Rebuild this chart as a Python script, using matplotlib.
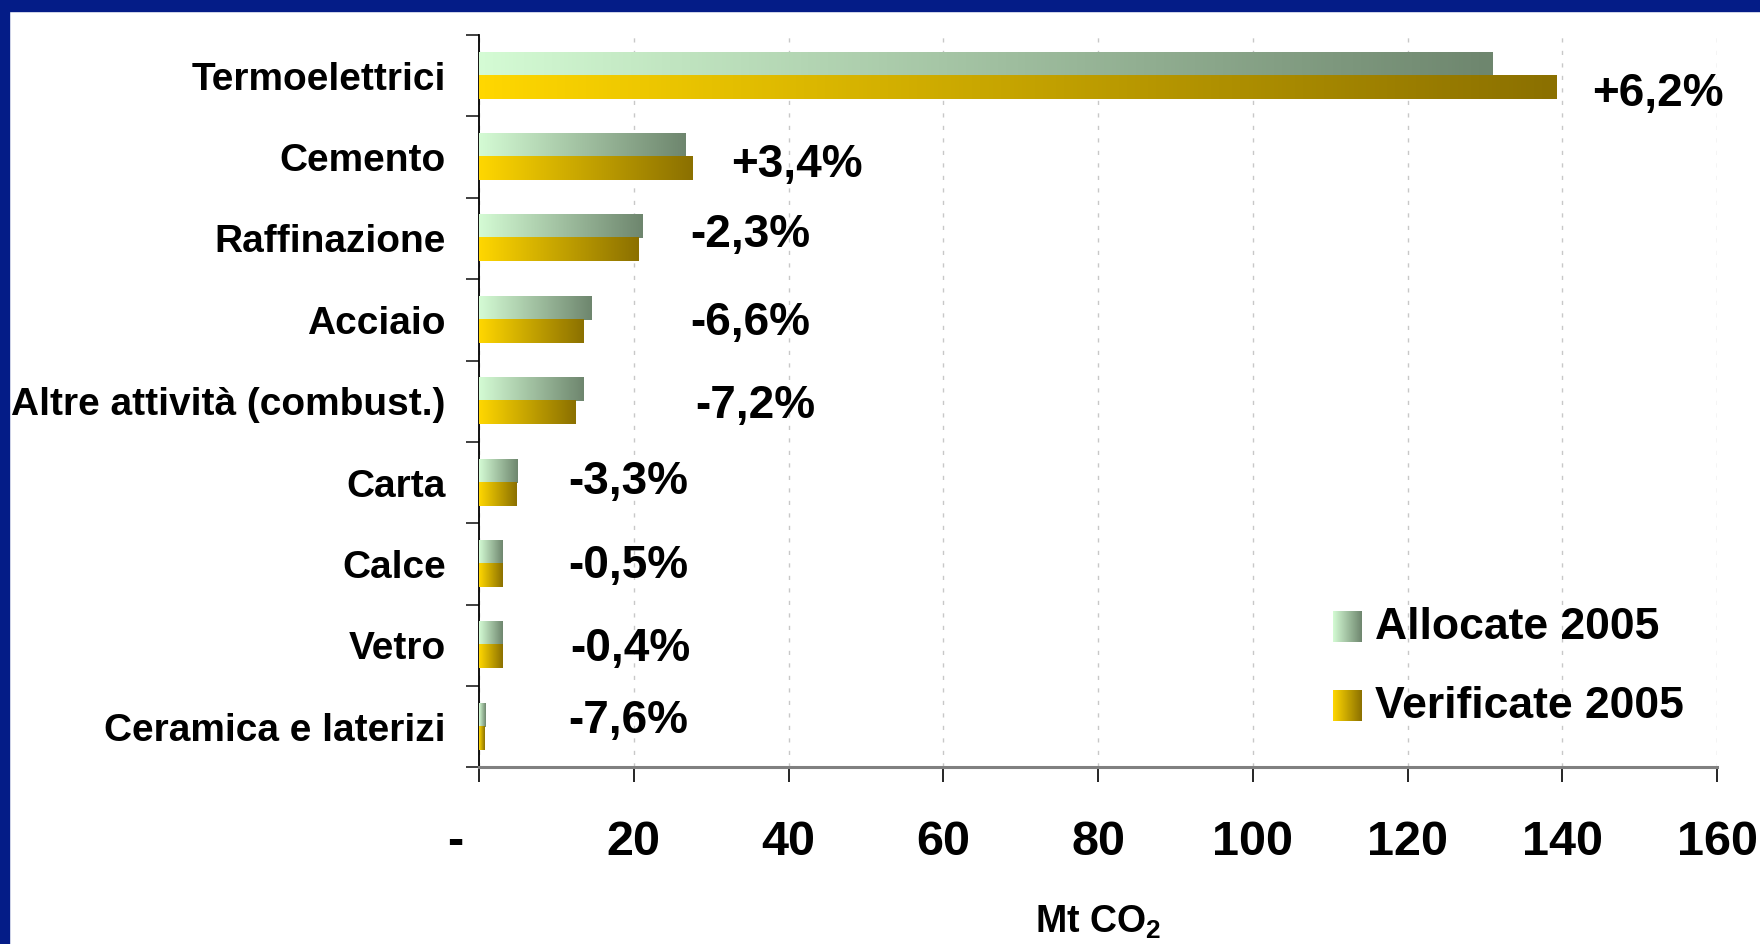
import numpy as np
import matplotlib
matplotlib.use('Agg')
from matplotlib import pyplot as plt
from matplotlib.colors import LinearSegmentedColormap
from matplotlib.patches import Rectangle
from matplotlib.transforms import ScaledTranslation

# data (Mt CO2)
sectors = ['Termoelettrici', 'Cemento', 'Raffinazione', 'Acciaio',
           'Altre attività (combust.)', 'Carta', 'Calce', 'Vetro',
           'Ceramica e laterizi']
allocate_2005 = [131.0, 26.7, 21.1, 14.5, 13.5, 5.0, 3.0, 3.0, 0.8]
verificate_2005 = [139.2, 27.6, 20.6, 13.5, 12.5, 4.85, 2.98, 2.99, 0.75]
variations = ['+6,2%', '+3,4%', '-2,3%', '-6,6%', '-7,2%',
              '-3,3%', '-0,5%', '-0,4%', '-7,6%']
x_ticks = [0, 20, 40, 60, 80, 100, 120, 140, 160]
x_ticklabels = ['-', '20', '40', '60', '80', '100', '120', '140', '160']
series_names = ['Allocate 2005', 'Verificate 2005']

# where the hand-placed variation labels sit (data x, offset from row centre)
label_x = [143.8, 32.6, 27.3, 27.3, 27.9, 11.5, 11.5, 11.8, 11.5]
label_dy = [0.22, 0.10, -0.04, 0.04, 0.06, -0.01, 0.03, 0.04, -0.07]

plt.rcParams['mathtext.default'] = 'regular'
NARROW = ['Liberation Sans Narrow', 'Liberation Sans']
WIDE = ['Liberation Sans', 'DejaVu Sans']

cmap_alloc = LinearSegmentedColormap.from_list('alloc', ['#D4FBD4', '#6E866E'])
cmap_verif = LinearSegmentedColormap.from_list('verif', ['#FFD700', '#8B7000'])
grad = np.linspace(0, 1, 256).reshape(1, -1)


def fill_gradient(ax, patch, cmap, transform=None):
    '''Paint a left-to-right gradient inside a rectangle'''
    x, y = patch.get_x(), patch.get_y()
    w, h = patch.get_width(), patch.get_height()
    kw = {} if transform is None else {'transform': transform}
    ax.imshow(grad, cmap=cmap, extent=[x, x + w, y, y + h], aspect='auto',
              interpolation='bilinear', zorder=3, **kw)
    patch.set_visible(False)


fig = plt.figure(figsize=(17.6, 9.44), dpi=100)
ax = fig.add_axes([0.2722, 0.187, 0.9756 - 0.2722, 0.963 - 0.187])

# blue frame of the slide
fig.patches.append(Rectangle((0, 1 - 11 / 944), 1, 11 / 944, transform=fig.transFigure,
                             color='#041C87', zorder=0))
fig.patches.append(Rectangle((0, 0), 9 / 1760, 1, transform=fig.transFigure,
                             color='#041C87', zorder=0))

pos = np.arange(len(sectors))
h = 0.283
bars_a = ax.barh(pos - h / 2, allocate_2005, height=h, zorder=3)
bars_v = ax.barh(pos + h / 2, verificate_2005, height=h, zorder=3)
for p in bars_a:
    fill_gradient(ax, p, cmap_alloc)
for p in bars_v:
    fill_gradient(ax, p, cmap_verif)

ax.set_xlim(0, 160)
ax.set_ylim(len(sectors) - 0.5, -0.5)

for i, txt in enumerate(variations):
    ax.text(label_x[i], i + label_dy[i], txt, ha='left', va='center',
            fontsize=33, fontweight='bold', family=NARROW, zorder=4)

# axes styling
for s in ['top', 'right']:
    ax.spines[s].set_visible(False)
ax.spines['left'].set_color('black')
ax.spines['left'].set_linewidth(1.3)
ax.spines['bottom'].set_color('#808080')
ax.spines['bottom'].set_linewidth(2.2)

ax.set_xticks(x_ticks)
ax.set_xticklabels(x_ticklabels, fontsize=35, fontweight='bold', family=NARROW)
ax.tick_params(axis='x', length=11, width=1.2, color='black', pad=27)
ax.xaxis.grid(True, color='#C8C8C8', linestyle=(0, (3, 6)), linewidth=1, zorder=0)
ax.set_axisbelow(True)

ax.set_yticks(np.arange(-0.5, len(sectors), 1.0))
ax.set_yticklabels([])
ax.set_yticks(pos, minor=True)
ax.set_yticklabels(sectors, minor=True, fontsize=28, fontweight='bold', family=WIDE)
ax.tick_params(axis='y', which='major', length=9.5, width=1.3, color='#303030')
ax.tick_params(axis='y', which='minor', length=0, pad=24)

ax.set_xlabel('Mt CO$_2$', fontsize=27, fontweight='bold', family=WIDE, labelpad=28)

# dash label for zero sits left of its tick
zero_lab = ax.get_xticklabels()[0]
zero_lab.set_transform(zero_lab.get_transform() + ScaledTranslation(-0.24, 0, fig.dpi_scale_trans))

# hand-made legend with gradient swatches
sw_x, sw_w, sw_h = 0.690, 0.023, 0.041
for k, (name, cmap, y0) in enumerate(zip(series_names, [cmap_alloc, cmap_verif], [0.171, 0.063])):
    sw = Rectangle((sw_x, y0), sw_w, sw_h, transform=ax.transAxes)
    fill_gradient(ax, sw, cmap, transform=ax.transAxes)
    ax.text(0.724, y0 + sw_h / 2, name, transform=ax.transAxes, ha='left', va='center',
            fontsize=32, fontweight='bold', family=WIDE, zorder=4)

ax.set_xlim(0, 160)
ax.set_ylim(len(sectors) - 0.5, -0.5)

fig.savefig('out.png', dpi=100)
